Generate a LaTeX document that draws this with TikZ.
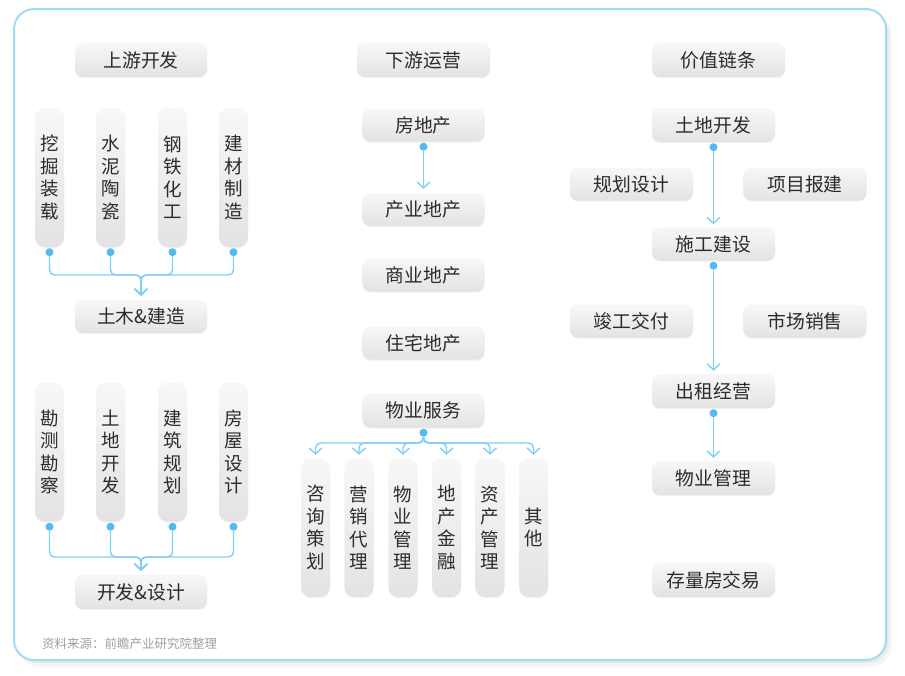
\documentclass[tikz,border=0pt]{standalone}
\usepackage{fontspec}
\setmainfont{Noto Sans CJK SC}
\usetikzlibrary{arrows.meta,calc,shadows}
\definecolor{lineblue}{HTML}{80CFF8}
\definecolor{dotblue}{HTML}{4FBBF2}
\definecolor{frameblue}{HTML}{A3DBF7}
\definecolor{txt}{HTML}{2B2B2B}
\definecolor{srcgray}{HTML}{A0A0A0}
\begin{document}
\begin{tikzpicture}[x=1pt,y=-1pt,
  box/.style={rounded corners=8pt, top color=black!3, bottom color=black!11, draw=none, text=txt,
    font=\fontsize{18.8}{20}\selectfont, inner sep=0pt, minimum height=33pt, minimum width=122pt,
    drop shadow={shadow xshift=0pt,shadow yshift=-1.2pt,opacity=0.10}},
  headbox/.style={box, minimum width=132pt, minimum height=34pt},
  pill/.style={box, minimum width=29pt, minimum height=139pt, rounded corners=10pt, align=center,
    font=\fontsize{18.5}{22.5}\selectfont},
  conn/.style={draw=lineblue, line width=1.4pt, -{Straight Barb[length=6pt,width=13pt]},
    rounded corners=5pt, shorten >=4pt},
  cdot/.style={circle, fill=dotblue, inner sep=0pt, minimum size=8pt}]
\useasboundingbox (0,0) rectangle (905,675);
% frame with shadow
\fill[black,opacity=0.04,rounded corners=22pt] (18,14) rectangle (892,667);
\fill[black,opacity=0.05,rounded corners=21pt] (16,12) rectangle (889,663);
\draw[frameblue,line width=2pt,fill=white,rounded corners=20pt] (14,9) rectangle (886,660);

% ---------- left column ----------
\node[headbox] (sy) at (141,60) {上游开发};
\node[pill] (a1) at (49.5,177.5) {挖\\掘\\装\\载};
\node[pill] (a2) at (110.5,177.5) {水\\泥\\陶\\瓷};
\node[pill] (a3) at (172.5,177.5) {钢\\铁\\化\\工};
\node[pill] (a4) at (233.5,177.5) {建\\材\\制\\造};
\node[headbox, minimum height=33pt] (tm) at (141,316.5) {土木\&建造};
\coordinate (ah) at (141,275);
\foreach \i in {1,...,4}{
  \node[cdot] (ad\i) at ($(a\i.south)+(0,5)$) {};
  \draw[conn] (ad\i.south) |- (ah) -- (tm.north);
}

\node[pill] (b1) at (49.5,452) {勘\\测\\勘\\察};
\node[pill] (b2) at (110.5,452) {土\\地\\开\\发};
\node[pill] (b3) at (172.5,452) {建\\筑\\规\\划};
\node[pill] (b4) at (233.5,452) {房\\屋\\设\\计};
\node[headbox] (kf) at (141,592) {开发\&设计};
\coordinate (bh) at (141,557);
\foreach \i in {1,...,4}{
  \node[cdot] (bd\i) at ($(b\i.south)+(0,5)$) {};
  \draw[conn] (bd\i.south) |- (bh) -- (kf.north);
}

\node[anchor=west, inner sep=0pt, text=srcgray, font=\fontsize{12.5}{14}\selectfont] (src) at (42,644) {资料来源：前瞻产业研究院整理};

% ---------- middle column ----------
\node[headbox, minimum width=133pt] (xy) at (423.5,60) {下游运营};
\node[box] (fdc) at (423.5,125) {房地产};
\node[box] (cy) at (423.5,209.5) {产业地产};
\node[box] (sy2) at (423.5,275) {商业地产};
\node[box] (zz) at (423.5,343) {住宅地产};
\node[box, minimum height=34pt] (wy) at (423.5,410.5) {物业服务};
\node[cdot] (fd) at ($(fdc.south)+(0,5)$) {};
\draw[conn] (fd.south) -- (cy.north);

\node[pill] (c1) at (315.5,527.5) {咨\\询\\策\\划};
\node[pill] (c2) at (359,527.5) {营\\销\\代\\理};
\node[pill] (c3) at (403,527.5) {物\\业\\管\\理};
\node[pill] (c4) at (446.5,527.5) {地\\产\\金\\融};
\node[pill] (c5) at (490,527.5) {资\\产\\管\\理};
\node[pill] (c6) at (533.5,527.5) {其\\他};
\node[cdot] (wd) at ($(wy.south)+(0,5)$) {};
\coordinate (wf) at (423.5,443);
\foreach \i in {1,...,6}{
  \draw[conn, shorten >=3pt] (wd.south) -- (wf) -| (c\i.north);
}

% ---------- right column ----------
\node[headbox, minimum width=133pt] (jz) at (718.5,60) {价值链条};
\node[box, minimum width=123pt, minimum height=34pt] (td) at (713.5,125) {土地开发};
\node[box, minimum width=123pt] (gh) at (631.5,184) {规划设计};
\node[box, minimum width=123pt] (xm) at (805,184) {项目报建};
\node[box, minimum width=123pt] (sg) at (713.5,244) {施工建设};
\node[box, minimum width=123pt] (jg) at (631.5,321) {竣工交付};
\node[box, minimum width=123pt] (sc) at (805,321) {市场销售};
\node[box, minimum width=123pt, minimum height=34pt] (cz) at (713.5,391) {出租经营};
\node[box, minimum width=123pt, minimum height=34pt] (wg) at (713.5,478) {物业管理};
\node[box, minimum width=123pt, minimum height=34pt] (cl) at (713.5,580) {存量房交易};
\node[cdot] (td1) at ($(td.south)+(0,5)$) {};
\node[cdot] (sg1) at ($(sg.south)+(0,5)$) {};
\node[cdot] (cz1) at ($(cz.south)+(0,5)$) {};
\draw[conn, shorten >=3pt] (td1.south) -- (sg.north);
\draw[conn, shorten >=3pt] (sg1.south) -- (cz.north);
\draw[conn, shorten >=3pt] (cz1.south) -- (wg.north);
\end{tikzpicture}
\end{document}
